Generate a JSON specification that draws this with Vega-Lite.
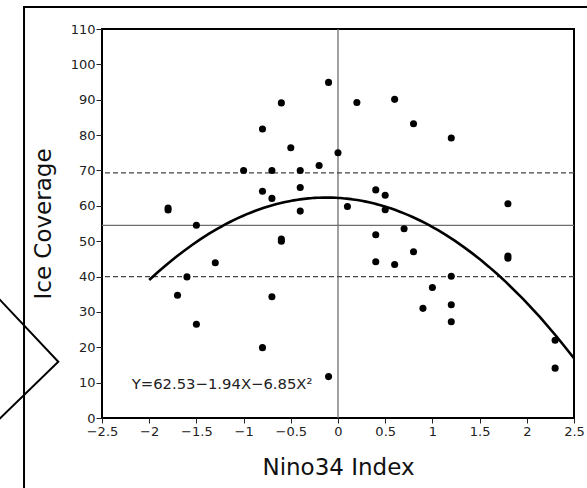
{
  "$schema": "https://vega.github.io/schema/vega-lite/v6.json",
  "width": 472,
  "height": 389,
  "autosize": {"type": "none"},
  "padding": {"left": 102, "top": 29, "right": 13, "bottom": 70},
  "background": "white",
  "config": {
    "view": {"stroke": "black", "strokeWidth": 2},
    "axis": {
      "grid": false,
      "domain": false,
      "labelFont": "DejaVu Sans",
      "labelFontSize": 13,
      "labelColor": "#222",
      "tickColor": "#222",
      "labelOverlap": false,
      "labelBound": false,
      "titleFont": "DejaVu Sans",
      "titleFontSize": 23,
      "titleFontWeight": "normal",
      "titleColor": "#111"
    }
  },
  "datasets": {
    "obs": [
      {"nino": -1.8, "ice": 58.8}, {"nino": -1.8, "ice": 59.4}, {"nino": -1.5, "ice": 54.5}, {"nino": -1.0, "ice": 70.0},
      {"nino": -0.8, "ice": 81.7}, {"nino": -0.6, "ice": 89.1}, {"nino": -0.8, "ice": 64.1},
      {"nino": -0.7, "ice": 70.0}, {"nino": -0.7, "ice": 62.1}, {"nino": -0.5, "ice": 76.4},
      {"nino": -0.4, "ice": 70.0}, {"nino": -0.4, "ice": 65.2}, {"nino": -0.4, "ice": 58.5},
      {"nino": -0.2, "ice": 71.4}, {"nino": -0.1, "ice": 94.9}, {"nino": 0.0, "ice": 75.0},
      {"nino": -0.6, "ice": 50.0}, {"nino": -0.6, "ice": 50.6}, {"nino": 0.2, "ice": 89.2}, {"nino": 0.6, "ice": 90.1},
      {"nino": 0.8, "ice": 83.2}, {"nino": 1.2, "ice": 79.2}, {"nino": 0.4, "ice": 64.5},
      {"nino": 0.5, "ice": 63.0}, {"nino": 0.1, "ice": 59.8}, {"nino": 0.5, "ice": 58.9},
      {"nino": 1.8, "ice": 60.6}, {"nino": 0.7, "ice": 53.5}, {"nino": 0.4, "ice": 51.8},
      {"nino": 0.4, "ice": 44.2}, {"nino": 0.6, "ice": 43.4}, {"nino": 0.8, "ice": 47.0},
      {"nino": 1.8, "ice": 45.2}, {"nino": 1.8, "ice": 45.8}, {"nino": 1.2, "ice": 40.1}, {"nino": 1.0, "ice": 36.9},
      {"nino": 0.9, "ice": 31.0}, {"nino": 1.2, "ice": 32.0}, {"nino": 1.2, "ice": 27.2},
      {"nino": 2.3, "ice": 22.0}, {"nino": 2.3, "ice": 14.1}, {"nino": -0.1, "ice": 11.7},
      {"nino": -1.3, "ice": 43.9}, {"nino": -1.6, "ice": 39.9}, {"nino": -1.7, "ice": 34.7},
      {"nino": -0.7, "ice": 34.3}, {"nino": -1.5, "ice": 26.5}, {"nino": -0.8, "ice": 19.9}
    ],
    "deco": [
      {"part": "frame", "seq": 1, "nino": 2.9, "ice": 116.2},
      {"part": "frame", "seq": 2, "nino": -3.326, "ice": 116.2},
      {"part": "frame", "seq": 3, "nino": -3.326, "ice": -25},
      {"part": "chevron", "seq": 1, "nino": -3.697, "ice": 36.7},
      {"part": "chevron", "seq": 2, "nino": -2.963, "ice": 15.9},
      {"part": "chevron", "seq": 3, "nino": -3.697, "ice": -3.1}
    ]
  },
  "layer": [
    {
      "data": {"name": "deco"},
      "mark": {"type": "line", "clip": false, "color": "black", "strokeWidth": 2},
      "encoding": {
        "x": {
          "field": "nino", "type": "quantitative", "title": "Nino34 Index",
          "scale": {"domain": [-2.5, 2.5], "nice": false, "zero": false},
          "axis": {"values": [-2.5, -2, -1.5, -1, -0.5, 0, 0.5, 1, 1.5, 2, 2.5], "tickCount": 30, "format": "~g", "tickSize": 5, "labelPadding": 2, "titlePadding": 18, "labelFlush": false, "labelOverlap": false}
        },
        "y": {
          "field": "ice", "type": "quantitative", "title": "Ice Coverage",
          "scale": {"domain": [0, 110], "nice": false},
          "axis": {"values": [0, 10, 20, 30, 40, 50, 60, 70, 80, 90, 100, 110], "tickCount": 30, "tickSize": 6, "labelPadding": 1, "titlePadding": 15, "labelOverlap": false, "labelFlush": false}
        },
        "detail": {"field": "part"},
        "order": {"field": "seq"}
      }
    },
    {
      "data": {"values": [{}]},
      "mark": {"type": "rule", "color": "#6e6e6e", "strokeWidth": 1.3},
      "encoding": {"x": {"datum": 0, "type": "quantitative"}}
    },
    {
      "data": {"name": "obs"},
      "mark": {"type": "rule", "color": "#6e6e6e", "strokeWidth": 1.3},
      "encoding": {"y": {"aggregate": "mean", "field": "ice", "type": "quantitative", "title": "Ice Coverage"}}
    },
    {
      "data": {"values": [{}]},
      "mark": {"type": "rule", "color": "#444", "strokeWidth": 1.2, "strokeDash": [5, 3]},
      "encoding": {"y": {"datum": 69.3, "type": "quantitative"}}
    },
    {
      "data": {"values": [{}]},
      "mark": {"type": "rule", "color": "#444", "strokeWidth": 1.2, "strokeDash": [5, 3]},
      "encoding": {"y": {"datum": 40.0, "type": "quantitative"}}
    },
    {
      "data": {"name": "obs"},
      "transform": [
        {"regression": "ice", "on": "nino", "method": "poly", "order": 2, "extent": [-2, 2.5]}
      ],
      "mark": {"type": "line", "color": "black", "strokeWidth": 2.6},
      "encoding": {
        "x": {"field": "nino", "type": "quantitative", "title": "Nino34 Index"},
        "y": {"field": "ice", "type": "quantitative", "title": "Ice Coverage"}
      }
    },
    {
      "data": {"name": "obs"},
      "mark": {"type": "circle", "color": "black", "opacity": 1, "size": 50},
      "encoding": {
        "x": {"field": "nino", "type": "quantitative", "title": "Nino34 Index"},
        "y": {"field": "ice", "type": "quantitative", "title": "Ice Coverage"}
      }
    },
    {
      "data": {"values": [{"label": "Y=62.53−1.94X−6.85X²"}]},
      "mark": {"type": "text", "align": "left", "baseline": "middle", "font": "DejaVu Sans", "fontSize": 14.8, "color": "#222"},
      "encoding": {
        "x": {"datum": -2.185, "type": "quantitative"},
        "y": {"datum": 9.3, "type": "quantitative"},
        "text": {"field": "label"}
      }
    }
  ]
}
